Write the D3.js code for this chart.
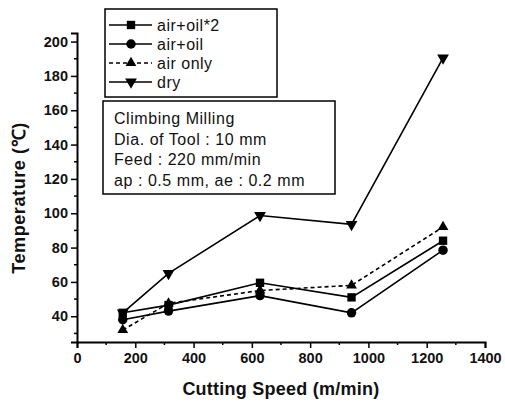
<!DOCTYPE html>
<html><head><meta charset="utf-8">
<script src="https://cdn.jsdelivr.net/npm/d3@7"></script>
<style>body{margin:0;background:#fff}svg{display:block}</style>
</head><body>
<svg id="c" width="505" height="402"></svg>
<script>
const speeds = [157, 314, 628, 942, 1256];
const airOil2 = [42, 46.5, 59.5, 51, 84];
const airOil = [38, 43, 52, 42, 78.5];
const airOnly = [32, 47.5, 55, 58, 92];
const dry = [42, 65, 98.7, 93.5, 190.5];
const seriesNames = ["air+oil*2", "air+oil", "air only", "dry"];
const xTicks = [0, 200, 400, 600, 800, 1000, 1200, 1400];
const yTicks = [40, 60, 80, 100, 120, 140, 160, 180, 200];
const noteLines = ["Climbing Milling", "Dia. of Tool : 10 mm", "Feed : 220 mm/min", "ap : 0.5 mm, ae : 0.2 mm"];

const svg = d3.select("#c");
const font = "'Liberation Sans', Arial, sans-serif";
const x = d3.scaleLinear().domain([0, 1400]).range([77, 485]);
const y = d3.scaleLinear().domain([25, 205]).range([342, 33]);

const series = [
  {name: seriesNames[0], vals: airOil2, sym: d3.symbolSquare, size: 70, dash: null, rot: 0},
  {name: seriesNames[1], vals: airOil, sym: d3.symbolCircle, size: 70, dash: null, rot: 0},
  {name: seriesNames[2], vals: airOnly, sym: d3.symbolTriangle, size: 50, dash: "4,3", rot: 0},
  {name: seriesNames[3], vals: dry, sym: d3.symbolTriangle, size: 60, dash: null, rot: 180}
];

// axes
const xAxis = d3.axisBottom(x).tickValues(xTicks).tickSize(6).tickPadding(5).tickFormat(d3.format("d"));
const gx = svg.append("g").attr("transform", "translate(0,342)").call(xAxis);
const xMinor = d3.range(100, 1400, 200);
gx.selectAll(".minor").data(xMinor).enter().append("line").attr("class", "minor")
  .attr("x1", d => x(d)).attr("x2", d => x(d)).attr("y1", 0).attr("y2", 3).attr("stroke", "#000").attr("stroke-width", 1.5);

const yAxis = d3.axisLeft(y).tickValues(yTicks).tickSize(6).tickPadding(3);
const gy = svg.append("g").attr("transform", "translate(77,0)").call(yAxis);
const yMinor = d3.range(30, 205, 20);
gy.selectAll(".minor").data(yMinor).enter().append("line").attr("class", "minor")
  .attr("y1", d => y(d)).attr("y2", d => y(d)).attr("x1", 0).attr("x2", -3).attr("stroke", "#000").attr("stroke-width", 1.5);

[gx, gy].forEach(g => {
  g.select(".domain").attr("stroke", "#000").attr("stroke-width", 2);
  g.selectAll(".tick line").attr("stroke", "#000").attr("stroke-width", 1.5);
  g.selectAll(".tick text").attr("font-family", font).attr("font-size", 14.5).attr("font-weight", "bold").attr("fill", "#111");
});

svg.append("text").attr("x", 281).attr("y", 395).attr("text-anchor", "middle")
  .attr("font-family", font).attr("font-size", 18).attr("font-weight", "bold").attr("letter-spacing", 0.25)
  .attr("fill", "#111").text("Cutting Speed (m/min)");
svg.append("text").attr("transform", "translate(25,198) rotate(-90)").attr("text-anchor", "middle")
  .attr("font-family", font).attr("font-size", 18).attr("font-weight", "bold").attr("letter-spacing", 0.6)
  .attr("fill", "#111").text("Temperature (℃)");

// lines
const line = d3.line().x((d, i) => x(speeds[i])).y(d => y(d));
series.forEach(s => {
  svg.append("path").datum(s.vals).attr("d", line).attr("fill", "none").attr("stroke", "#000")
    .attr("stroke-width", 1.6).attr("stroke-dasharray", s.dash);
  svg.selectAll(null).data(s.vals).enter().append("path")
    .attr("d", d3.symbol().type(s.sym).size(s.size))
    .attr("transform", (d, i) => `translate(${x(speeds[i])},${y(d)}) rotate(${s.rot})`)
    .attr("fill", "#000");
});

// legend
const lg = svg.append("g");
lg.append("rect").attr("x", 105).attr("y", 9).attr("width", 172).attr("height", 88)
  .attr("fill", "#fff").attr("stroke", "#000").attr("stroke-width", 1.5);
series.forEach((s, i) => {
  const ly = 25 + i * 19;
  lg.append("line").attr("x1", 109).attr("x2", 152).attr("y1", ly).attr("y2", ly)
    .attr("stroke", "#000").attr("stroke-width", 1.4).attr("stroke-dasharray", s.dash);
  lg.append("path").attr("d", d3.symbol().type(s.sym).size(s.size)())
    .attr("transform", `translate(131,${ly}) rotate(${s.rot})`).attr("fill", "#000");
  lg.append("text").attr("x", 157).attr("y", ly + 5.5).attr("font-family", font).attr("font-size", 16)
    .attr("letter-spacing", 0.5).attr("fill", "#111").text(s.name);
});

// note box
const nb = svg.append("g");
nb.append("rect").attr("x", 103).attr("y", 101).attr("width", 232).attr("height", 93)
  .attr("fill", "#fff").attr("stroke", "#000").attr("stroke-width", 1.5);
noteLines.forEach((t, i) => {
  nb.append("text").attr("x", 114).attr("y", 124 + i * 20.5).attr("font-family", font)
    .attr("font-size", 16).attr("letter-spacing", 0.55).attr("fill", "#111").text(t);
});
</script>
</body></html>
